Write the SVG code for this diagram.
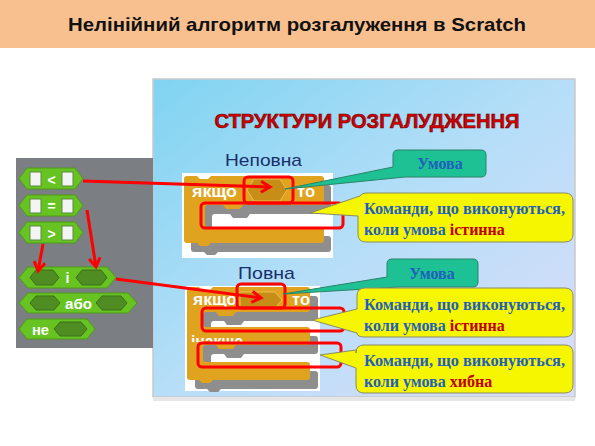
<svg xmlns="http://www.w3.org/2000/svg" width="595" height="446" viewBox="0 0 595 446">
<defs>
<linearGradient id="bg" x1="0" y1="0" x2="1" y2="1">
<stop offset="0" stop-color="#7fd4f1"/>
<stop offset="0.5" stop-color="#b6def8"/>
<stop offset="1" stop-color="#dcdcf9"/>
</linearGradient>
<linearGradient id="tl" x1="0" y1="0" x2="1" y2="0">
<stop offset="0" stop-color="#4fc5b8" stop-opacity="0"/>
<stop offset="0.15" stop-color="#4fc5b8"/>
<stop offset="1" stop-color="#4fc5b8"/>
</linearGradient>
<marker id="ah" markerUnits="userSpaceOnUse" markerWidth="14" markerHeight="14" refX="11" refY="7" orient="auto">
<path d="M2,1.5 L11,7 L2,12.5" fill="none" stroke="#ff0000" stroke-width="3" stroke-linejoin="miter"/>
</marker>
<clipPath id="clipInakshe"><rect x="185" y="320" width="120" height="22"/></clipPath>
</defs>
<style>
.hdr{font-family:"Liberation Sans",Arial,sans-serif;font-weight:bold;font-size:19px;fill:#111}
.gb{fill:#66c322;stroke:#4e9b18;stroke-width:1}
.dh{fill:#4f8d22;stroke:#3c6f1a;stroke-width:1}
.ws{fill:#f4f4f4;stroke:#5a8a40;stroke-width:1}
.wt{font-family:"Liberation Sans",Arial,sans-serif;font-weight:bold;font-size:14px;fill:#fff}
.bt{font-family:"Liberation Sans",Arial,sans-serif;font-weight:bold;font-size:16px;fill:#fff}
.op{fill:#e0a31f}
.sh{fill:#8e8e8e}
.slot{fill:#c68e17;stroke:#efbf4a;stroke-width:1}
.rr{fill:none;stroke:#ff0000;stroke-width:3}
.con{fill:none;stroke:#ff0000;stroke-width:3;marker-end:url(#ah)}
.teal{fill:#1ec193;stroke:#2b8468;stroke-width:1}
.yel{fill:#f6f600;stroke:#8a8a6a;stroke-width:1}
.ct{font-family:"Liberation Serif","Times New Roman",serif;font-weight:bold;font-size:16px;fill:#1f5fbd}
.red{fill:#c00000}
.sub{font-family:"Liberation Sans",Arial,sans-serif;font-size:17px;fill:#1a2e6c}
</style>

<!-- header -->
<g id="header">
<rect x="0" y="0" width="595" height="48" fill="#f9c08f"/>
<text class="hdr" x="297" y="31" text-anchor="middle" textLength="458" lengthAdjust="spacingAndGlyphs">Нелінійний алгоритм розгалуження в Scratch</text>
</g>

<!-- slide panel -->
<g id="slide">
<rect x="153" y="79" width="422" height="318" fill="url(#bg)" stroke="#c9c9c9" stroke-width="1.5"/>
<rect x="153" y="397" width="422" height="4" fill="#e6e6e6"/>
<line x1="180" y1="128.5" x2="573" y2="128.5" stroke="url(#tl)" stroke-width="1.5"/>
<text x="367" y="128" text-anchor="middle" font-family="'Liberation Sans',Arial,sans-serif" font-weight="bold" font-size="20" fill="#d40000" stroke="#6a0000" stroke-width="0.6" textLength="305" lengthAdjust="spacingAndGlyphs">СТРУКТУРИ РОЗГАЛУДЖЕННЯ</text>
<text class="sub" x="225" y="166" textLength="77" lengthAdjust="spacingAndGlyphs">Неповна</text>
<text class="sub" x="238" y="279" textLength="57" lengthAdjust="spacingAndGlyphs">Повна</text>
</g>

<!-- left gray palette -->
<g id="palette">
<rect x="16" y="158" width="137" height="190" fill="#7b7e82"/>
</g>

<g id="lt">
<path class="gb" d="M19,178.5 L27,168 H75 L83,178.5 L75,189 H27 Z"/>
<rect class="ws" x="30" y="172" width="11" height="14"/>
<rect class="ws" x="62" y="172" width="11" height="14"/>
<text class="wt" x="51.5" y="184.5" text-anchor="middle" font-weight="normal" font-size="17">&lt;</text>
</g>
<g id="eq">
<path class="gb" d="M19,205.5 L27,195 H75 L83,205.5 L75,216 H27 Z"/>
<rect class="ws" x="30" y="199" width="11" height="14"/>
<rect class="ws" x="62" y="199" width="11" height="14"/>
<text class="wt" x="51.5" y="211" text-anchor="middle">=</text>
</g>
<g id="gt">
<path class="gb" d="M19,232.5 L27,222 H75 L83,232.5 L75,243 H27 Z"/>
<rect class="ws" x="30" y="226" width="11" height="14"/>
<rect class="ws" x="62" y="226" width="11" height="14"/>
<text class="wt" x="51.5" y="238.5" text-anchor="middle" font-weight="normal" font-size="17">&gt;</text>
</g>
<g id="and">
<path class="gb" d="M19,277.5 L28,267 H107 L116,277.5 L107,288 H28 Z"/>
<path class="dh" d="M30,277.5 L36,270 H53 L59,277.5 L53,285 H36 Z"/>
<path class="dh" d="M76,277.5 L82,270 H101 L107,277.5 L101,285 H82 Z"/>
<text class="wt" x="67.5" y="283" text-anchor="middle">і</text>
</g>
<g id="or">
<path class="gb" d="M19,303 L28,293 H128 L137,303 L128,313 H28 Z"/>
<path class="dh" d="M30,303 L36,296 H54 L60,303 L54,310 H36 Z"/>
<path class="dh" d="M96,303 L102,296 H121 L127,303 L121,310 H102 Z"/>
<text class="wt" x="78.5" y="308.5" text-anchor="middle" textLength="27" lengthAdjust="spacingAndGlyphs">або</text>
</g>
<g id="not">
<path class="gb" d="M19,329 L27,319 H87 L95,329 L87,339 H27 Z"/>
<path class="dh" d="M54,329 L60,322 H81 L87,329 L81,336 H60 Z"/>
<text class="wt" x="32" y="334.5" textLength="17" lengthAdjust="spacingAndGlyphs">не</text>
</g>

<!-- incomplete if -->
<g id="if-incomplete">
<rect x="182" y="173" width="151" height="85" fill="#ffffff"/>
<path class="sh" transform="translate(7,9)" d="M184,179 Q184,176 187,176 H197 L200,179 H208 L211,176 H321 Q324,176 324,179 V202 Q324,205 321,205 H243 L240,209 H226 L223,205 H208 Q205,205 205,208 V224 Q205,227 208,227 H321 Q324,227 324,230 V240 Q324,243 321,243 H211 L208,246 H200 L197,243 H187 Q184,243 184,240 Z"/>
<path class="op" d="M184,179 Q184,176 187,176 H197 L200,179 H208 L211,176 H321 Q324,176 324,179 V202 Q324,205 321,205 H243 L240,209 H226 L223,205 H208 Q205,205 205,208 V224 Q205,227 208,227 H321 Q324,227 324,230 V240 Q324,243 321,243 H211 L208,246 H200 L197,243 H187 Q184,243 184,240 Z"/>
<path class="slot" d="M247,190 L254,179 H280 L287,190 L280,201 H254 Z"/>
<text class="bt" x="192" y="197" textLength="45" lengthAdjust="spacingAndGlyphs">якщо</text>
<text class="bt" x="297" y="197" textLength="18" lengthAdjust="spacingAndGlyphs">то</text>
</g>

<!-- complete if -->
<g id="if-complete">
<rect x="185" y="286" width="135" height="105" fill="#ffffff"/>
<path class="sh" transform="translate(8,9)" d="M187,290 Q187,287 190,287 H199 L202,290 H210 L213,287 H307 Q310,287 310,290 V309 Q310,312 307,312 H236 L233,316 H219 L216,312 H206 Q203,312 203,315 V324 Q203,327 206,327 H307 Q310,327 310,330 V342 Q310,345 307,345 H236 L233,349 H219 L216,345 H206 Q203,345 203,348 V359 Q203,362 206,362 H307 Q310,362 310,365 V377 Q310,380 307,380 H213 L210,383 H202 L199,380 H190 Q187,380 187,377 Z"/>
<path class="op" d="M187,290 Q187,287 190,287 H199 L202,290 H210 L213,287 H307 Q310,287 310,290 V309 Q310,312 307,312 H236 L233,316 H219 L216,312 H206 Q203,312 203,315 V324 Q203,327 206,327 H307 Q310,327 310,330 V342 Q310,345 307,345 H236 L233,349 H219 L216,345 H206 Q203,345 203,348 V359 Q203,362 206,362 H307 Q310,362 310,365 V377 Q310,380 307,380 H213 L210,383 H202 L199,380 H190 Q187,380 187,377 Z"/>
<path class="slot" d="M240,292 H275 L282,300 L275,308 H240 Z"/>
<text class="bt" x="193" y="305" textLength="44" lengthAdjust="spacingAndGlyphs">якщо</text>
<text class="bt" x="292" y="305" textLength="18" lengthAdjust="spacingAndGlyphs">то</text>
<text class="bt" x="191" y="347" clip-path="url(#clipInakshe)" textLength="52" lengthAdjust="spacingAndGlyphs">інакше</text>
</g>

<!-- red highlight frames -->
<g id="frames">
<rect class="rr" x="244" y="177" width="49" height="26" rx="4"/>
<rect class="rr" x="201" y="203" width="142" height="25" rx="4"/>
<rect class="rr" x="237" y="284" width="48" height="24" rx="4"/>
<rect class="rr" x="202" y="308" width="142" height="23" rx="4"/>
<rect class="rr" x="198" y="343" width="143" height="24" rx="4"/>
</g>

<!-- callouts -->
<g id="cond1">
<path class="teal" d="M398,150 H481 Q486,150 486,155 V172 Q486,177 481,177 H405 L285,189 L393,167 V155 Q393,150 398,150 Z"/>
<text class="ct" x="440" y="169" text-anchor="middle">Умова</text>
</g>
<g id="true1">
<path class="yel" d="M366,193 H565 Q573,193 573,201 V234 Q573,242 565,242 H366 Q358,242 358,234 V216 L310,213 L360,196 Q362,193 366,193 Z"/>
<text class="ct" x="364" y="214" textLength="201" lengthAdjust="spacingAndGlyphs">Команди, що виконуються,</text>
<text class="ct" x="364" y="235">коли умова <tspan class="red">істинна</tspan></text>
</g>
<g id="cond2">
<path class="teal" d="M392,259 H473 Q478,259 478,264 V282 Q478,287 473,287 H399 L283,294 L387,277 V264 Q387,259 392,259 Z"/>
<text class="ct" x="432" y="279" text-anchor="middle">Умова</text>
</g>
<g id="true2">
<path class="yel" d="M365,288 H565 Q573,288 573,296 V329 Q573,337 565,337 H365 Q357,337 357,333 L312,320 L357,309 V296 Q357,288 365,288 Z"/>
<text class="ct" x="364" y="310" textLength="201" lengthAdjust="spacingAndGlyphs">Команди, що виконуються,</text>
<text class="ct" x="364" y="331">коли умова <tspan class="red">істинна</tspan></text>
</g>
<g id="false">
<path class="yel" d="M364,345 H565 Q573,345 573,353 V385 Q573,393 565,393 H364 Q356,393 356,385 V368 L320,355 L356,350 V353 Q356,345 364,345 Z"/>
<text class="ct" x="364" y="366" textLength="201" lengthAdjust="spacingAndGlyphs">Команди, що виконуються,</text>
<text class="ct" x="364" y="387">коли умова <tspan class="red">хибна</tspan></text>
</g>

<!-- connectors -->
<g id="connectors">
<line class="con" x1="83" y1="181" x2="270" y2="187"/>
<line class="con" x1="87" y1="210" x2="96" y2="267"/>
<line class="con" x1="43" y1="244" x2="38" y2="271"/>
<line class="con" x1="116" y1="279" x2="261" y2="298"/>
</g>
</svg>
